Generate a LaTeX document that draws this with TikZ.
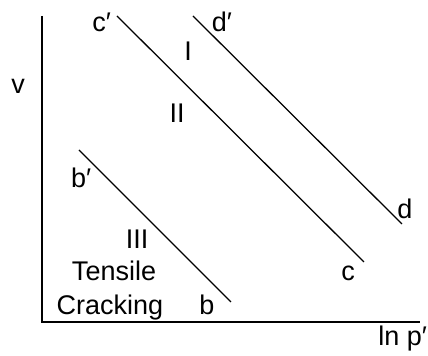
\documentclass[tikz,border=0pt]{standalone}
\usepackage{fontspec}
\setmainfont{Liberation Sans}
\usetikzlibrary{positioning}
\tikzset{lbl/.style={anchor=base,inner sep=0pt,font=\fontsize{19.2}{23}\selectfont},
  nline/.style={line width=0.9pt}}

\begin{document}
\begin{tikzpicture}
  \useasboundingbox (0,0) rectangle (10.7,8.9);
  % axes
  \coordinate (o) at (1.05,0.85);
  \coordinate (vtop) at (1.05,8.5);
  \coordinate (pend) at (10.5,0.85);
  \draw[line width=1.2pt] (vtop)--(o)--(pend);
  % lines b'b, c'c, d'd
  \coordinate (bp) at (1.975,5.15); \coordinate (b) at (5.775,1.35);
  \coordinate (cp) at (2.925,8.5);  \coordinate (c) at (9.1,2.35);
  \coordinate (dp) at (4.825,8.5);  \coordinate (d) at (10.05,3.3);
  \draw[nline] (bp)--(b);
  \draw[nline] (cp)--(c);
  \draw[nline] (dp)--(d);
  % labels
  \node[lbl] (lv) at (0.45,6.55) {v};
  \node[lbl,anchor=base west] (lp) at (9.45,0.25) {ln p′};
  \node[lbl] (lbp) at (2.03,4.2) {b′};
  \node[lbl] (lcp) at (2.54,8.1) {c′};
  \node[lbl] (ldp) at (5.55,8.1) {d′};
  \node[lbl] (lb) at (5.175,1.025) {b};
  \node[lbl] (lc) at (8.7,1.875) {c};
  \node[lbl] (ld) at (10.125,3.425) {d};
  \node[lbl] (zI) at (4.7,7.375) {I};
  \node[lbl] (zII) at (4.425,5.825) {II};
  \node[lbl] (zIII) at (3.425,2.675) {III};
  \node[lbl] (tens) at (2.85,1.875) {Tensile};
  \node[lbl] (crack) at (2.75,1.025) {Cracking};
\end{tikzpicture}
\end{document}
